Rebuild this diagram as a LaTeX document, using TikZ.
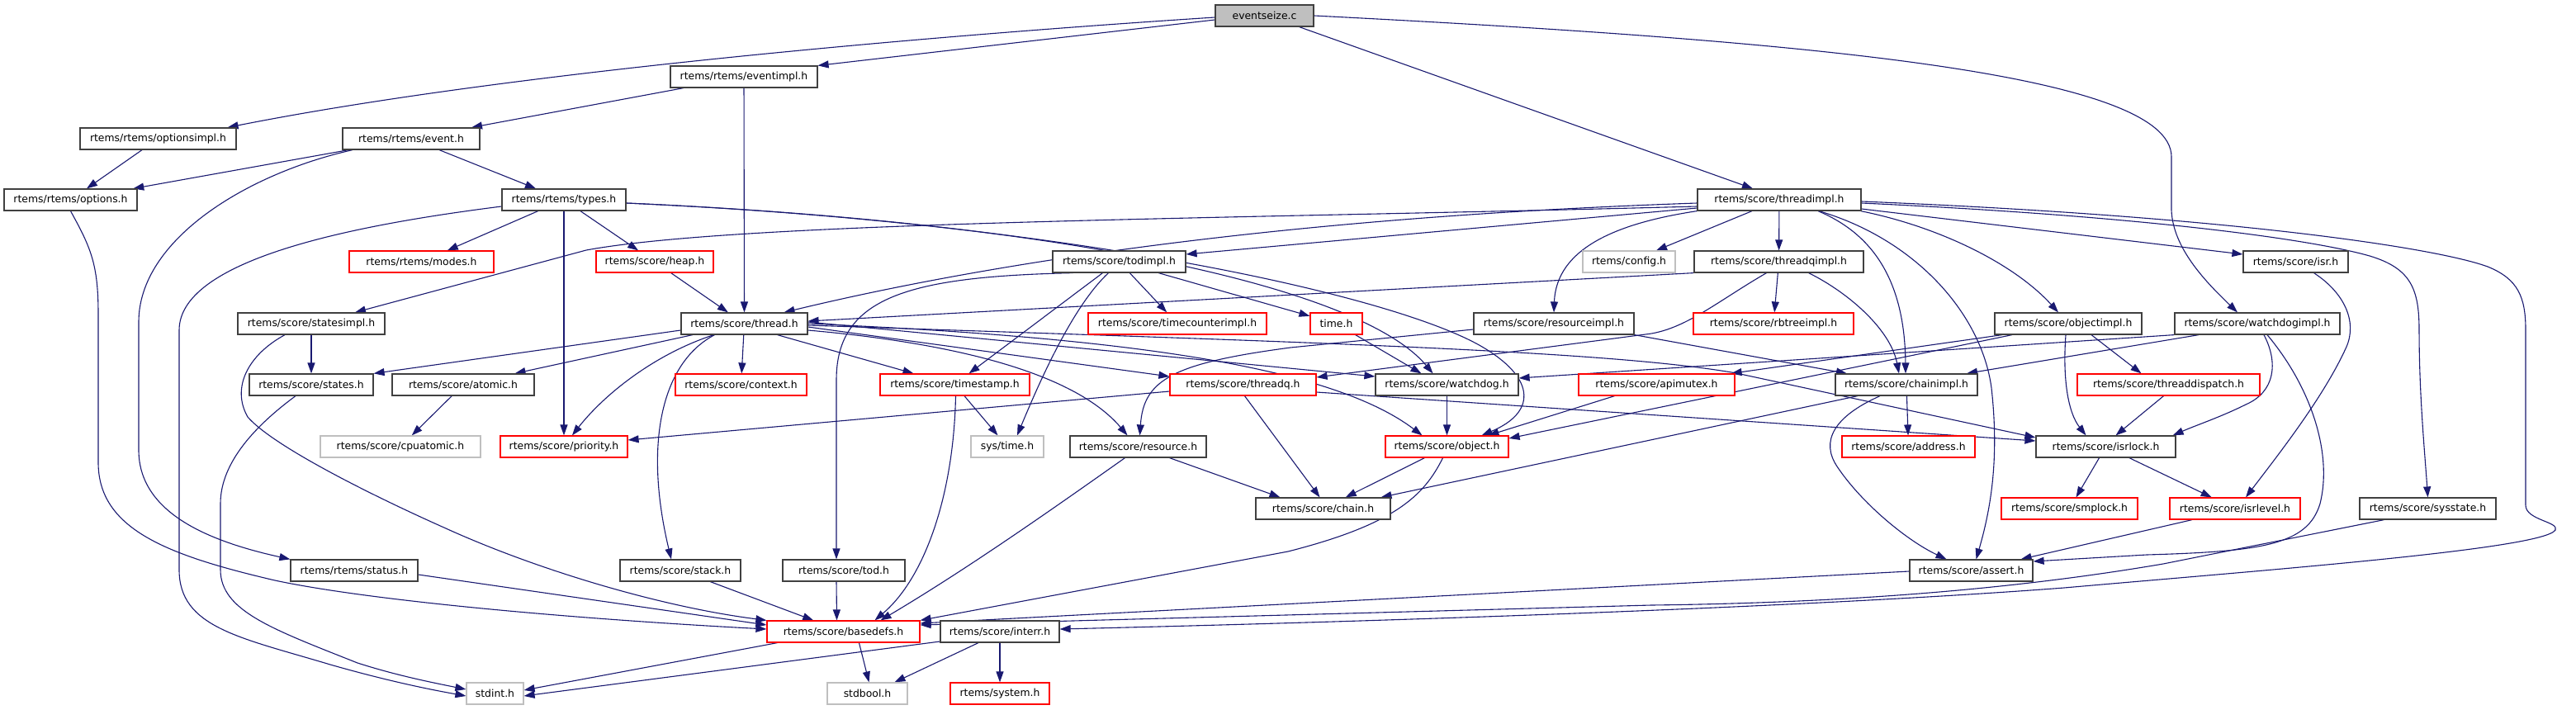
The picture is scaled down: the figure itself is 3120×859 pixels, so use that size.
\documentclass[tikz,border=0pt]{standalone}
\usepackage{fontspec}
\setmainfont{DejaVu Sans}
\usetikzlibrary{arrows.meta}
\definecolor{edgec}{HTML}{191970}
\definecolor{nbord}{HTML}{404040}
\definecolor{gbord}{HTML}{BFBFBF}
\definecolor{rbord}{HTML}{FF0000}
\definecolor{rootfill}{HTML}{BFBFBF}
\pgfdeclarelayer{bg}
\pgfsetlayers{bg,main}
\begin{document}
\begin{tikzpicture}[x=1pt,y=-1pt,
  nb/.style={draw=nbord, line width=1.2pt, fill=white, minimum height=26pt, inner sep=0pt, font=\fontsize{12.4}{14}\selectfont, text=black},
  rb/.style={nb, draw=rbord},
  gb/.style={nb, draw=gbord},
  root/.style={nb, fill=rootfill},
  dep/.style={draw=edgec, line width=1.1pt, -{Triangle[length=13pt,width=9pt]}}]
\useasboundingbox (0,0) rectangle (3120,859);

\node[root, minimum width=119pt] (es) at (1531.5,19) {eventseize.c};
\node[nb, minimum width=189pt] (optionsimpl) at (191.5,168) {rtems/rtems/optionsimpl.h};
\node[nb, minimum width=178pt] (eventimpl) at (901,93) {rtems/rtems/eventimpl.h};
\node[nb, minimum width=166pt] (event) at (498,168) {rtems/rtems/event.h};
\node[nb, minimum width=161pt] (options) at (85.5,242) {rtems/rtems/options.h};
\node[nb, minimum width=150pt] (types) at (683,242) {rtems/rtems/types.h};
\node[nb, minimum width=198pt] (threadimpl) at (2155,242) {rtems/score/threadimpl.h};
\node[rb, minimum width=175pt] (modes) at (510.5,317) {rtems/rtems/modes.h};
\node[rb, minimum width=142pt] (heap) at (793,317) {rtems/score/heap.h};
\node[nb, minimum width=161pt] (todimpl) at (1355.5,317) {rtems/score/todimpl.h};
\node[gb, minimum width=112pt] (config) at (1973,317) {rtems/config.h};
\node[nb, minimum width=205pt] (threadqimpl) at (2154.5,317) {rtems/score/threadqimpl.h};
\node[nb, minimum width=127pt] (isr) at (2780.5,317) {rtems/score/isr.h};
\node[nb, minimum width=178pt] (statesimpl) at (377,392) {rtems/score/statesimpl.h};
\node[nb, minimum width=153pt] (thread) at (901.5,392) {rtems/score/thread.h};
\node[rb, minimum width=216pt] (timecounterimpl) at (1426,392) {rtems/score/timecounterimpl.h};
\node[rb, minimum width=63pt] (time) at (1618.5,392) {time.h};
\node[nb, minimum width=194pt] (resourceimpl) at (1882,392) {rtems/score/resourceimpl.h};
\node[rb, minimum width=194pt] (rbtreeimpl) at (2148,392) {rtems/score/rbtreeimpl.h};
\node[nb, minimum width=178pt] (objectimpl) at (2505,392) {rtems/score/objectimpl.h};
\node[nb, minimum width=200pt] (watchdogimpl) at (2734,392) {rtems/score/watchdogimpl.h};
\node[nb, minimum width=150pt] (states) at (377,466) {rtems/score/states.h};
\node[nb, minimum width=172pt] (atomic) at (561,466) {rtems/score/atomic.h};
\node[rb, minimum width=159pt] (context) at (897.5,466) {rtems/score/context.h};
\node[rb, minimum width=181pt] (timestamp) at (1156.5,466) {rtems/score/timestamp.h};
\node[rb, minimum width=177pt] (threadq) at (1505.5,466) {rtems/score/threadq.h};
\node[nb, minimum width=173pt] (watchdog) at (1752.5,466) {rtems/score/watchdog.h};
\node[rb, minimum width=189pt] (apimutex) at (2006.5,466) {rtems/score/apimutex.h};
\node[nb, minimum width=172pt] (chainimpl) at (2309,466) {rtems/score/chainimpl.h};
\node[rb, minimum width=221pt] (threaddispatch) at (2626.5,466) {rtems/score/threaddispatch.h};
\node[gb, minimum width=194pt] (cpuatomic) at (485,541) {rtems/score/cpuatomic.h};
\node[rb, minimum width=154pt] (priority) at (683,541) {rtems/score/priority.h};
\node[gb, minimum width=88pt] (systime) at (1220,541) {sys/time.h};
\node[nb, minimum width=165pt] (resource) at (1378.5,541) {rtems/score/resource.h};
\node[rb, minimum width=149pt] (object) at (1752.5,541) {rtems/score/object.h};
\node[rb, minimum width=161pt] (address) at (2311.5,541) {rtems/score/address.h};
\node[nb, minimum width=169pt] (isrlock) at (2550.5,541) {rtems/score/isrlock.h};
\node[nb, minimum width=163pt] (chain) at (1602.5,616) {rtems/score/chain.h};
\node[rb, minimum width=165pt] (smplock) at (2506.5,616) {rtems/score/smplock.h};
\node[rb, minimum width=158pt] (isrlevel) at (2707,616) {rtems/score/isrlevel.h};
\node[nb, minimum width=165pt] (sysstate) at (2940.5,616) {rtems/score/sysstate.h};
\node[nb, minimum width=154pt] (status) at (429,691) {rtems/rtems/status.h};
\node[nb, minimum width=146pt] (stack) at (824,691) {rtems/score/stack.h};
\node[nb, minimum width=148pt] (tod) at (1022,691) {rtems/score/tod.h};
\node[nb, minimum width=149pt] (assert) at (2387.5,691) {rtems/score/assert.h};
\node[rb, minimum width=185pt] (basedefs) at (1021.5,765) {rtems/score/basedefs.h};
\node[nb, minimum width=144pt] (interr) at (1211,765) {rtems/score/interr.h};
\node[gb, minimum width=69pt] (stdint) at (599.5,840) {stdint.h};
\node[gb, minimum width=97pt] (stdbool) at (1050.5,840) {stdbool.h};
\node[rb, minimum width=120pt] (system) at (1211,840) {rtems/system.h};

\begin{pgfonlayer}{bg}
% eventseize.c
\draw[dep] ([yshift=-2pt]es.west) .. controls (1100,45) and (600,90) .. ([xshift=-11pt]optionsimpl.north east);
\draw[dep] ([yshift=-5pt]es.west) -- (eventimpl.north east);
\draw[dep] ([xshift=-18pt]es.south east) -- ([xshift=-32pt]threadimpl.north);
\draw[dep] (es.east) .. controls (2200,50) and (2630,90) .. (2630,190) -- (2630,255) .. controls (2632,300) and (2670,340) .. ([xshift=-24pt]watchdogimpl.north);
% optionsimpl, event, eventimpl
\draw[dep] (optionsimpl) -- (options);
\draw[dep] (event) -- (options);
\draw[dep] (event) -- (types);
\draw[dep] ([xshift=-71pt]event.south) .. controls (300,210) and (168,290) .. (168,390) -- (168,545) .. controls (168,620) and (250,655) .. (status.north west);
\draw[dep] (options.south) .. controls (110,300) and (119,320) .. (119,380) -- (119,560) .. controls (119,640) and (200,672) .. (333,703) .. controls (450,728) and (700,750) .. ([yshift=3pt]basedefs.west);
\draw[dep] (eventimpl) -- (event);
\draw[dep] (eventimpl) -- (thread);
% types
\draw[dep] (types) -- (modes);
\draw[dep] (types) -- (heap);
\draw[dep] (types) -- (priority);
\draw[dep] ([yshift=-8pt]types.west) .. controls (450,270) and (217,310) .. (217,400) -- (217,690) .. controls (217,760) and (290,772) .. (400,805) .. controls (470,825) and (520,835) .. ([yshift=-3pt]stdint.west);
\draw[dep] ([yshift=-4pt]types.east) .. controls (1300,270) and (1650,350) .. ([xshift=-17pt]watchdog.north);
\draw[dep] ([yshift=-4pt]types.east) .. controls (1300,270) and (1700,360) .. (1800,423) .. controls (1860,460) and (1860,500) .. ([xshift=42pt]object.north);
\draw[dep] (heap) -- (thread);
% threadimpl
\draw[dep] ([yshift=-8pt]threadimpl.west) .. controls (1500,265) and (900,268) .. (710,303) -- ([xshift=53pt]statesimpl.north);
\draw[dep] ([yshift=-4pt]threadimpl.west) .. controls (1500,265) and (1150,330) .. ([xshift=48pt]thread.north);
\draw[dep] ([yshift=-10pt]threadimpl.west) -- ([yshift=9pt]todimpl.east);
\draw[dep] (threadimpl.south west) .. controls (1960,270) and (1885,300) .. (resourceimpl.north);
\draw[dep] (threadimpl) -- (config);
\draw[dep] (threadimpl) -- (threadqimpl);
\draw[dep] ([xshift=47pt]threadimpl.south) .. controls (2260,280) and (2307,330) .. ([xshift=-1pt]chainimpl.north);
\draw[dep] ([xshift=48pt]threadimpl.south) .. controls (2320,290) and (2400,380) .. (2412,470) .. controls (2422,560) and (2410,620) .. ([xshift=6pt]assert.north);
\draw[dep] ([xshift=-1pt]threadimpl.south east) .. controls (2350,275) and (2440,320) .. ([xshift=-12pt]objectimpl.north);
\draw[dep] ([yshift=-11pt]threadimpl.east) -- ([yshift=9pt]isr.west);
\draw[dep] ([yshift=-4pt]threadimpl.east) .. controls (2600,262) and (2800,290) .. (2870,310) .. controls (2920,325) and (2930,350) .. (2930,400) .. controls (2930,480) and (2937,550) .. (sysstate.north);
\draw[dep] ([yshift=-2pt]threadimpl.east) .. controls (2700,262) and (2950,300) .. (3013,323) .. controls (3050,338) and (3059,360) .. (3059,400) -- (3059,612) .. controls (3059,630) and (3100,632) .. (3095,642) .. controls (3080,665) and (2750,690) .. (2500,712) .. controls (2200,735) and (1700,752) .. ([yshift=3pt]interr.east);
% threadqimpl
\draw[dep] (threadqimpl.south west) -- ([yshift=3pt]thread.east);
\draw[dep] (threadqimpl) -- (rbtreeimpl);
\draw[dep] ([xshift=-67pt]threadqimpl.south east) .. controls (2240,355) and (2290,400) .. ([xshift=-9pt]chainimpl.north);
\draw[dep] ([xshift=-15pt]threadqimpl.south) .. controls (2080,365) and (2040,400) .. (1993,405) -- ([yshift=9pt]threadq.east);
% todimpl
\draw[dep] (todimpl) -- (timecounterimpl);
\draw[dep] (todimpl) -- (time);
\draw[dep] ([xshift=-20pt]todimpl.south) -- ([xshift=17pt]timestamp.north);
\draw[dep] ([xshift=-13pt]todimpl.south) .. controls (1300,370) and (1260,460) .. ([xshift=12pt]systime.north);
\draw[dep] ([xshift=-56pt]todimpl.south) .. controls (1100,335) and (1013,360) .. (1013,460) -- ([xshift=-9pt]tod.north);
% thread
\draw[dep] ([yshift=-8pt]thread.west) -- (states.north east);
\draw[dep] (thread) -- (atomic);
\draw[dep] ([xshift=-37pt]thread.south) .. controls (790,430) and (730,480) .. ([xshift=10pt]priority.north);
\draw[dep] ([xshift=-36pt]thread.south) .. controls (800,440) and (780,540) .. ([xshift=-11pt]stack.north);
\draw[dep] (thread) -- (context);
\draw[dep] ([xshift=40pt]thread.south) -- ([xshift=-50pt]timestamp.north);
\draw[dep] ([yshift=-8pt]thread.east) .. controls (1150,415) and (1300,450) .. ([xshift=-13pt]resource.north);
\draw[dep] ([yshift=-4pt]thread.east) -- ([yshift=10pt]threadq.west);
\draw[dep] ([yshift=2pt]thread.east) -- ([yshift=10pt]watchdog.west);
\draw[dep] (thread.east) .. controls (1400,410) and (1620,450) .. ([xshift=-30pt]object.north);
\draw[dep] ([yshift=-2pt]thread.east) .. controls (1600,415) and (1950,425) .. (2103,452) -- ([yshift=11pt]isrlock.west);
% statesimpl, states
\draw[dep] (statesimpl) -- (states);
\draw[dep] ([xshift=-32pt]statesimpl.south) .. controls (300,430) and (280,470) .. (300,505) .. controls (330,540) and (450,600) .. (540,640) .. controls (650,690) and (800,735) .. (basedefs.north west);
\draw[dep] ([xshift=-19pt]states.south) .. controls (310,515) and (267,560) .. (267,610) -- (267,690) .. controls (267,740) and (330,762) .. (433,803) .. controls (480,818) and (520,826) .. ([yshift=5pt]stdint.west);
\draw[dep] (atomic) -- (cpuatomic);
% timestamp, threadq, time
\draw[dep] (timestamp) -- (systime);
\draw[dep] ([xshift=1pt]timestamp.south) .. controls (1155,600) and (1120,700) .. ([xshift=38pt]basedefs.north);
\draw[dep] ([yshift=-8pt]threadq.west) -- ([yshift=8pt]priority.east);
\draw[dep] ([xshift=2pt]threadq.south) -- ([xshift=-4pt]chain.north);
\draw[dep] ([yshift=-9pt]threadq.east) -- ([yshift=7pt]isrlock.west);
\draw[dep] (time) -- ([xshift=-31pt]watchdog.north);
\draw[dep] (watchdog) -- (object);
\draw[dep] ([xshift=-51pt]apimutex.south) -- ([xshift=50pt]object.north);
% objectimpl
\draw[dep] ([xshift=-68pt]objectimpl.south) -- ([yshift=10pt]object.east);
\draw[dep] ([xshift=-80pt]objectimpl.south) -- ([xshift=-5pt]apimutex.north east);
\draw[dep] ([xshift=28pt]objectimpl.south) -- ([xshift=-33pt]threaddispatch.north);
\draw[dep] ([xshift=-3pt]objectimpl.south) .. controls (2498,460) and (2505,500) .. ([xshift=-24pt]isrlock.north);
\draw[dep] ([xshift=-6pt]threaddispatch.south) -- ([xshift=12pt]isrlock.north);
% watchdogimpl
\draw[dep] (watchdogimpl.south west) -- ([yshift=8pt]watchdog.east);
\draw[dep] ([xshift=-71pt]watchdogimpl.south) -- ([xshift=73pt]chainimpl.north);
\draw[dep] ([xshift=8pt]watchdogimpl.south) .. controls (2760,440) and (2755,475) .. (2720,490) .. controls (2690,505) and (2660,515) .. ([xshift=-4pt]isrlock.north east);
\draw[dep] ([xshift=12pt]watchdogimpl.south) .. controls (2800,470) and (2825,550) .. (2810,610) .. controls (2795,660) and (2740,668) .. (2600,672) -- ([yshift=11pt]assert.east);
% isr, isrlock, isrlevel
\draw[dep] ([xshift=22pt]isr.south) .. controls (2840,355) and (2855,390) .. (2842,420) .. controls (2815,480) and (2760,550) .. ([xshift=13pt]isrlevel.north);
\draw[dep] (isrlock) -- (smplock);
\draw[dep] (isrlock) -- (isrlevel);
\draw[dep] ([xshift=-52pt]isrlevel.south) -- ([xshift=-15pt]assert.north east);
% resourceimpl, resource
\draw[dep] ([yshift=-7pt]resourceimpl.west) -- (1563,421) .. controls (1420,440) and (1385,460) .. ([xshift=2pt]resource.north);
\draw[dep] (resourceimpl.south east) -- ([xshift=-72pt]chainimpl.north);
\draw[dep] ([xshift=-16pt]resource.south) .. controls (1270,620) and (1170,690) .. ([xshift=45pt]basedefs.north);
\draw[dep] ([xshift=38pt]resource.south) -- ([xshift=-52pt]chain.north);
% object, chainimpl
\draw[dep] (object) -- (chain);
\draw[dep] ([xshift=-5pt]object.south) .. controls (1725,600) and (1690,635) .. (1560,668) -- (basedefs.north east);
\draw[dep] ([xshift=-59pt]chainimpl.south) -- ([xshift=70pt]chain.north);
\draw[dep] (chainimpl) -- (address);
\draw[dep] ([xshift=-32pt]chainimpl.south) .. controls (2220,505) and (2205,535) .. (2225,565) .. controls (2255,610) and (2310,655) .. ([xshift=-30pt]assert.north);
% into basedefs
\draw[dep] ([yshift=-1pt]assert.west) -- ([yshift=10pt]basedefs.east);
\draw[dep] ([xshift=-53pt]sysstate.south) -- (2620,683) .. controls (2450,712) and (2250,730) .. (2000,733) -- ([yshift=8pt]basedefs.east);
\draw[dep] ([yshift=-5pt]status.east) -- ([yshift=8pt]basedefs.west);
\draw[dep] (stack) -- (basedefs);
\draw[dep] ([xshift=-9pt]tod.south) -- ([xshift=-8pt]basedefs.north);
% basedefs, interr
\draw[dep] ([xshift=-80pt]basedefs.south) -- ([yshift=4pt]stdint.east);
\draw[dep] ([xshift=19pt]basedefs.south) -- ([xshift=2pt]stdbool.north);
\draw[dep] ([yshift=-12pt]interr.west) -- ([yshift=-3pt]stdint.east);
\draw[dep] ([xshift=-26pt]interr.south) -- ([xshift=33pt]stdbool.north);
\draw[dep] (interr) -- (system);
\end{pgfonlayer}
\end{tikzpicture}
\end{document}
